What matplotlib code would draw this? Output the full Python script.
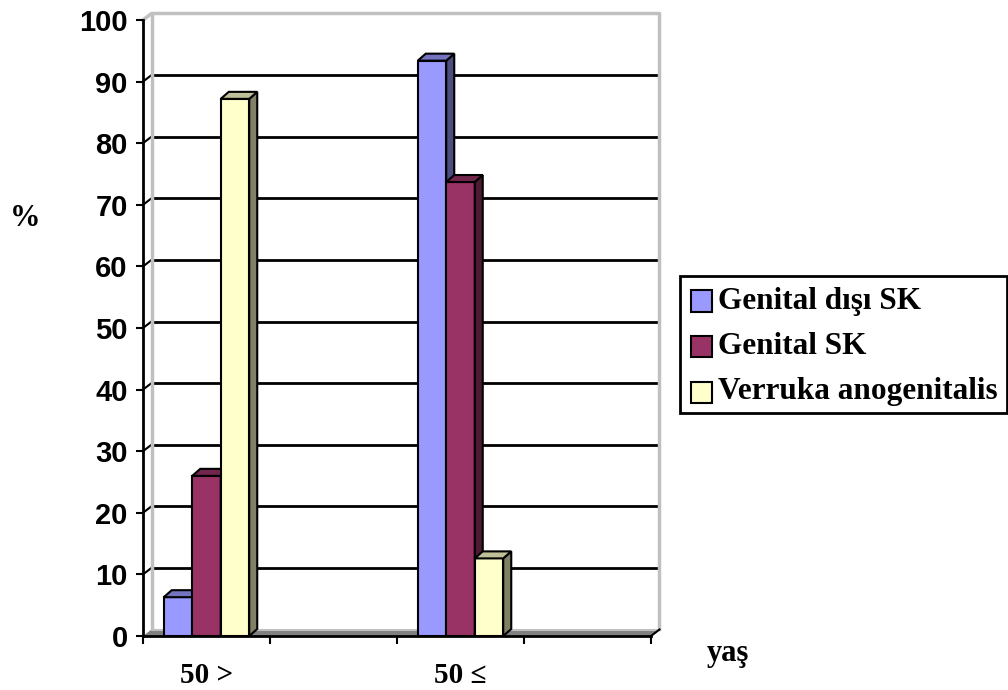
import numpy as np
import matplotlib
matplotlib.use("Agg")
import matplotlib.pyplot as plt
from matplotlib.patches import Polygon, Rectangle


CATEGORIES = ["50 >", "", "50 ≤", ""]
SERIES_NAMES = ["Genital dışı SK", "Genital SK", "Verruka anogenitalis"]
GENITAL_DISI_SK = [6.3, np.nan, 93.4, np.nan]
GENITAL_SK = [26.0, np.nan, 73.7, np.nan]
VERRUKA = [87.2, np.nan, 12.6, np.nan]
Y_TICKS = [0, 10, 20, 30, 40, 50, 60, 70, 80, 90, 100]

FRONT_COLORS = ["#9999ff", "#993366", "#ffffcc"]
SIDE_COLORS = ["#4d4d80", "#4d1a33", "#808066"]
TOP_COLORS = ["#7373bf", "#73264d", "#bfbf99"]

W, H = 1008, 690
SANS = ["Liberation Sans", "DejaVu Sans"]
SERIF = ["Liberation Serif", "DejaVu Serif"]


def fx(px):
    return px / W


def fy(py):
    return 1 - py / H


def main():
    series = [GENITAL_DISI_SK, GENITAL_SK, VERRUKA]
    n = len(CATEGORIES)

    fig = plt.figure(figsize=(W / 100, H / 100), dpi=100)
    left, right, top, bottom = 143, 651, 20, 636
    ax = fig.add_axes([fx(left), fy(bottom), (right - left) / W, (bottom - top) / H])
    ax.set_xlim(0, n)
    ax.set_ylim(0, 100)
    ax.patch.set_visible(False)

    # pixel -> data units
    ux = n / (right - left)
    uy = 100 / (bottom - top)
    wall_dx, wall_dy = 8.5 * ux, 6.5 * uy
    bar_dx, bar_dy = 8.0 * ux, 7.0 * uy

    # back wall gridlines and side wall diagonals
    for v in Y_TICKS[1:-1]:
        ax.plot([wall_dx, n + wall_dx], [v + wall_dy] * 2, color="black", lw=2,
                clip_on=False, zorder=1)
        ax.plot([0, wall_dx], [v, v + wall_dy], color="black", lw=1.5,
                clip_on=False, zorder=1)

    gray = "#c0c0c0"
    ax.plot([0, wall_dx, n + wall_dx, n + wall_dx], [100, 100 + wall_dy, 100 + wall_dy, wall_dy],
            color=gray, lw=2.5, clip_on=False, zorder=1)
    ax.plot([wall_dx, wall_dx], [wall_dy, 100 + wall_dy], color=gray, lw=2.5,
            clip_on=False, zorder=1)

    # floor
    floor = Polygon([(0, 0), (n, 0), (n + wall_dx, wall_dy), (wall_dx, wall_dy)],
                    closed=True, facecolor="#808080", edgecolor="none", clip_on=False, zorder=1.5)
    ax.add_patch(floor)
    ax.plot([wall_dx, n + wall_dx], [wall_dy, wall_dy], color=gray, lw=1.5,
            clip_on=False, zorder=1.6)
    ax.plot([n, n + wall_dx], [0, wall_dy], color="black", lw=1.5, clip_on=False, zorder=1.6)

    # bars
    bar_w = 28.5 * ux
    x = np.arange(n) + 0.5
    for k, vals in enumerate(series):
        offs = (k - 1) * bar_w
        z = 3 + k
        xs = x + offs
        ax.bar(xs, vals, width=bar_w, color=FRONT_COLORS[k], edgecolor="black",
               linewidth=1.5, zorder=z)
        for xc, v in zip(xs, vals):
            if np.isnan(v):
                continue
            x0, x1 = xc - bar_w / 2, xc + bar_w / 2
            side = Polygon([(x1, 0), (x1 + bar_dx, bar_dy), (x1 + bar_dx, v + bar_dy), (x1, v)],
                           closed=True, facecolor=SIDE_COLORS[k], edgecolor="black",
                           linewidth=1.5, zorder=z)
            topf = Polygon([(x0, v), (x1, v), (x1 + bar_dx, v + bar_dy), (x0 + bar_dx, v + bar_dy)],
                           closed=True, facecolor=TOP_COLORS[k], edgecolor="black",
                           linewidth=1.5, zorder=z)
            ax.add_patch(side)
            ax.add_patch(topf)

    # axes
    for s in ["top", "right"]:
        ax.spines[s].set_visible(False)
    for s in ["left", "bottom"]:
        ax.spines[s].set_linewidth(2)
        ax.spines[s].set_zorder(10)

    ax.set_yticks(Y_TICKS)
    ax.set_yticklabels([str(t) for t in Y_TICKS], fontsize=21, fontweight="bold", family=SANS)
    ax.tick_params(axis="y", length=5, width=1.5, pad=6)

    ax.set_xticks(np.arange(n + 1), minor=True)
    ax.tick_params(axis="x", which="minor", length=6, width=1.5, direction="out")
    ax.set_xticks(x)
    ax.set_xticklabels(CATEGORIES, fontsize=21, fontweight="bold", family=SERIF)
    ax.tick_params(axis="x", which="major", length=0, pad=19)

    fig.text(fx(25), fy(218), "%", fontsize=22, fontweight="bold", family=SERIF,
             ha="center", va="center")
    fig.text(fx(728), fy(653), "yaş", fontsize=22, fontweight="bold", family=SERIF,
             ha="center", va="center")

    # legend
    box = Rectangle((fx(680), fy(413)), fx(1007) - fx(680), fy(276) - fy(413),
                    transform=fig.transFigure, facecolor="white", edgecolor="black", lw=2)
    fig.add_artist(box)
    row_y = [301, 346, 392]
    for k, name in enumerate(SERIES_NAMES):
        sq = Rectangle((fx(691), fy(row_y[k] + 10.5)), 21 / W, 21 / H,
                       transform=fig.transFigure, facecolor=FRONT_COLORS[k],
                       edgecolor="black", lw=1.5)
        fig.add_artist(sq)
        fig.text(fx(718), fy(row_y[k]), name, fontsize=22.5, fontweight="bold", family=SERIF,
                 ha="left", va="center")

    fig.savefig("out.png", dpi=100)
    plt.close(fig)


if __name__ == "__main__":
    main()
